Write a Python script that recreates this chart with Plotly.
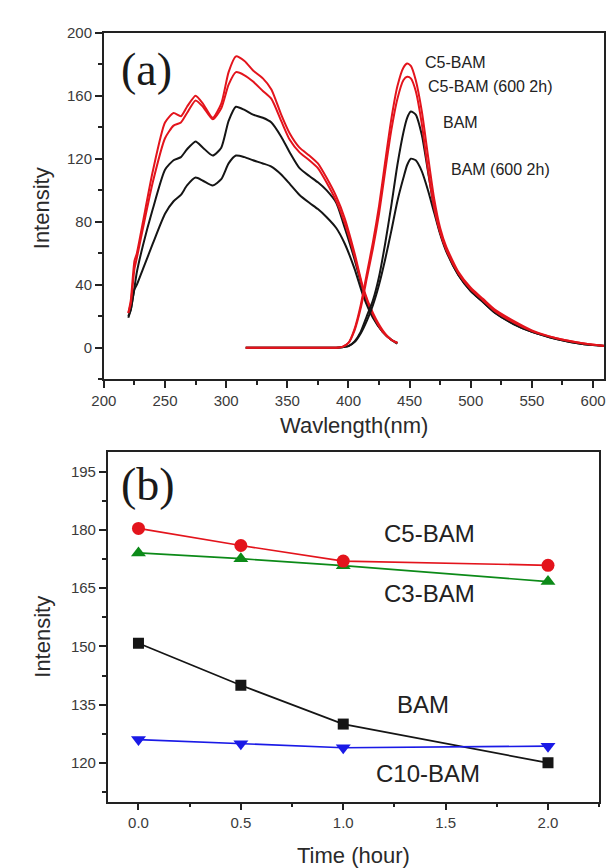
import plotly.graph_objects as go

# ---------- Panel (a): excitation / emission spectra ----------
ex_nm = [220, 222, 225, 227, 232, 240, 250, 257, 263, 268, 275, 281, 289, 296, 302, 308,
         315, 322, 330, 337, 345, 352, 360, 368, 375, 382, 390, 397, 405, 412, 420, 428, 435, 440]
ex_c5 = [22, 30, 55, 60, 80, 112, 143, 149, 147, 153, 160, 155, 146, 155, 175, 185,
         182, 176, 171, 164, 148, 136, 127, 122, 117, 108, 96, 82, 60, 38, 22, 11, 5, 3]
ex_c5_600 = [22, 28, 50, 57, 76, 105, 133, 141, 143, 149, 157, 153, 145, 152, 167, 175,
             173, 169, 163, 158, 144, 132, 124, 119, 114, 105, 93, 79, 58, 37, 21, 10, 5, 3]
ex_bam = [20, 24, 38, 48, 65, 88, 113, 119, 121, 126, 131, 127, 122, 127, 144, 153,
          151, 148, 146, 143, 134, 124, 114, 109, 105, 100, 92, 76, 56, 36, 20, 10, 5, 3]
ex_bam_600 = [19, 24, 37, 40, 50, 66, 85, 93, 97, 103, 108, 106, 103, 107, 117, 122,
              121, 119, 117, 115, 110, 104, 97, 92, 88, 83, 76, 66, 50, 33, 19, 10, 5, 2.5]

em_nm = [316, 340, 370, 390, 395, 400, 405, 410, 415, 420, 425, 430, 435, 440, 445, 448,
         451, 455, 460, 465, 470, 475, 480, 490, 500, 510, 520, 535, 550, 570, 590, 610]
em_c5 = [0, 0, 0, 0, 0.5, 3, 12, 27, 47, 67, 90, 118, 145, 166, 178, 180.5,
         179, 170, 150, 122, 95, 76, 64, 48, 38, 31, 24, 17, 11, 6, 3, 1]
em_c5_600 = [0, 0, 0, 0, 0.5, 3, 11, 25, 44, 63, 85, 112, 138, 158, 170, 172,
             171, 163, 142, 113, 89, 73, 62, 47, 37, 30, 23, 16, 10.5, 6, 3, 1]
em_bam = [0, 0, 0, 0, 0.3, 1, 4, 10, 20, 30, 45, 66, 90, 116, 137, 146,
          150, 148, 135, 112, 89, 73, 62, 46, 36, 29, 22, 15, 10, 5.5, 2.5, 1]
em_bam_600 = [0, 0, 0, 0, 0.3, 1, 3.5, 9, 17, 27, 40, 56, 74, 93, 108, 116,
              120, 119, 112, 100, 86, 72, 61, 46, 36, 29, 22, 15, 10, 5.5, 2.5, 1]

a_labels = ["C5-BAM", "C5-BAM (600 2h)", "BAM", "BAM (600 2h)"]
a_label_x = [461, 463.5, 475.5, 482]
a_label_y = [181, 166, 143, 113]

# ---------- Panel (b): intensity vs time ----------
time_h = [0.0, 0.5, 1.0, 2.0]
b_c5 = [180.4, 176.0, 172.0, 170.9]
b_c3 = [174.1, 172.6, 170.8, 166.7]
b_bam = [150.8, 140.0, 130.0, 120.0]
b_c10 = [126.0, 124.9, 123.9, 124.3]

b_labels = ["C5-BAM", "C3-BAM", "BAM", "C10-BAM"]
b_label_x = [1.42, 1.42, 1.39, 1.415]
b_label_y = [179, 163.7, 135, 117.2]

RED = "#e3141c"
BLACK = "#151515"
GREEN = "#0c8a18"
BLUE = "#1a1ae6"

fig = go.Figure()

for ys, col in [(ex_bam_600, BLACK), (ex_bam, BLACK), (ex_c5_600, RED), (ex_c5, RED)]:
    fig.add_trace(go.Scatter(x=ex_nm, y=ys, mode="lines",
                             line=dict(color=col, width=2, shape="spline", smoothing=0.6),
                             xaxis="x", yaxis="y", showlegend=False))
for ys, col in [(em_bam_600, BLACK), (em_bam, BLACK), (em_c5_600, RED), (em_c5, RED)]:
    fig.add_trace(go.Scatter(x=em_nm, y=ys, mode="lines",
                             line=dict(color=col, width=2, shape="spline", smoothing=0.6),
                             xaxis="x", yaxis="y", showlegend=False))

series_b = [(b_bam, BLACK, "square", 11), (b_c10, BLUE, "triangle-down", 13),
            (b_c3, GREEN, "triangle-up", 13), (b_c5, RED, "circle", 13)]
for ys, col, sym, sz in series_b:
    fig.add_trace(go.Scatter(x=time_h, y=ys, mode="lines+markers",
                             line=dict(color=col, width=1.7),
                             marker=dict(symbol=sym, size=sz, color=col),
                             xaxis="x2", yaxis="y2", showlegend=False))

W, H = 608, 868

def px(x):
    return x / W

def py(y):
    return 1 - y / H

tickfont = dict(family="Liberation Sans, Arial", size=15, color="#3a3a3a")
axis_common = dict(showgrid=False, zeroline=False, showline=True, linecolor="#222",
                   linewidth=1.6, mirror=True, ticks="outside", ticklen=7, tickwidth=1.5,
                   tickcolor="#222", tickfont=tickfont)

fig.update_layout(
    width=W, height=H, margin=dict(l=0, r=0, t=0, b=0),
    paper_bgcolor="white", plot_bgcolor="white",
    xaxis=dict(domain=[px(93), px(605)], range=[200, 609], anchor="y",
               tickvals=[200, 250, 300, 350, 400, 450, 500, 550, 600],
               minor=dict(dtick=25, ticks="outside", ticklen=4, tickcolor="#222"),
               **axis_common),
    yaxis=dict(domain=[py(374), py(24)], range=[-20, 200], anchor="x",
               tickvals=[0, 40, 80, 120, 160, 200],
               minor=dict(dtick=20, ticks="outside", ticklen=4, tickcolor="#222"),
               **axis_common),
    xaxis2=dict(domain=[px(97), px(600)], range=[-0.15, 2.25], anchor="y2",
                tickvals=[0, 0.5, 1.0, 1.5, 2.0], ticktext=["0.0", "0.5", "1.0", "1.5", "2.0"],
                minor=dict(dtick=0.25, ticks="outside", ticklen=4, tickcolor="#222"),
                **axis_common),
    yaxis2=dict(domain=[py(801), py(448)], range=[110, 200], anchor="x2",
                tickvals=[120, 135, 150, 165, 180, 195],
                minor=dict(tick0=112.5, dtick=7.5, ticks="outside", ticklen=4, tickcolor="#222"),
                **axis_common),
)

ann = []
for t, x, y in zip(a_labels, a_label_x, a_label_y):
    ann.append(dict(text=t, x=x, y=y, xref="x", yref="y", xanchor="left", yanchor="middle",
                    showarrow=False, font=dict(family="Liberation Sans, Arial", size=16, color="#222")))
for t, x, y in zip(b_labels, b_label_x, b_label_y):
    ann.append(dict(text=t, x=x, y=y, xref="x2", yref="y2", xanchor="center", yanchor="middle",
                    showarrow=False, font=dict(family="Liberation Sans, Arial", size=24, color="#222")))

ann.append(dict(text="(a)", x=px(137), y=py(61), xref="paper", yref="paper", showarrow=False,
                xanchor="center", yanchor="middle",
                font=dict(family="Liberation Serif, Times New Roman", size=46, color="#1a1a1a")))
ann.append(dict(text="(b)", x=px(138), y=py(480), xref="paper", yref="paper", showarrow=False,
                xanchor="center", yanchor="middle",
                font=dict(family="Liberation Serif, Times New Roman", size=46, color="#1a1a1a")))

title_font = dict(family="Liberation Sans, Arial", size=22, color="#2a2a2a")
ann.append(dict(text="Wavlength(nm)", x=px(349), y=py(421), xref="paper", yref="paper",
                showarrow=False, xanchor="center", yanchor="middle", font=title_font))
ann.append(dict(text="Time (hour)", x=px(349), y=py(855), xref="paper", yref="paper",
                showarrow=False, xanchor="center", yanchor="middle", font=title_font))
ann.append(dict(text="Intensity", x=px(30), y=py(201), xref="paper", yref="paper",
                showarrow=False, xanchor="center", yanchor="middle", textangle=-90, font=title_font))
ann.append(dict(text="Intensity", x=px(30), y=py(634), xref="paper", yref="paper",
                showarrow=False, xanchor="center", yanchor="middle", textangle=-90, font=title_font))

fig.update_layout(annotations=ann)

fig.write_html("out.html")
